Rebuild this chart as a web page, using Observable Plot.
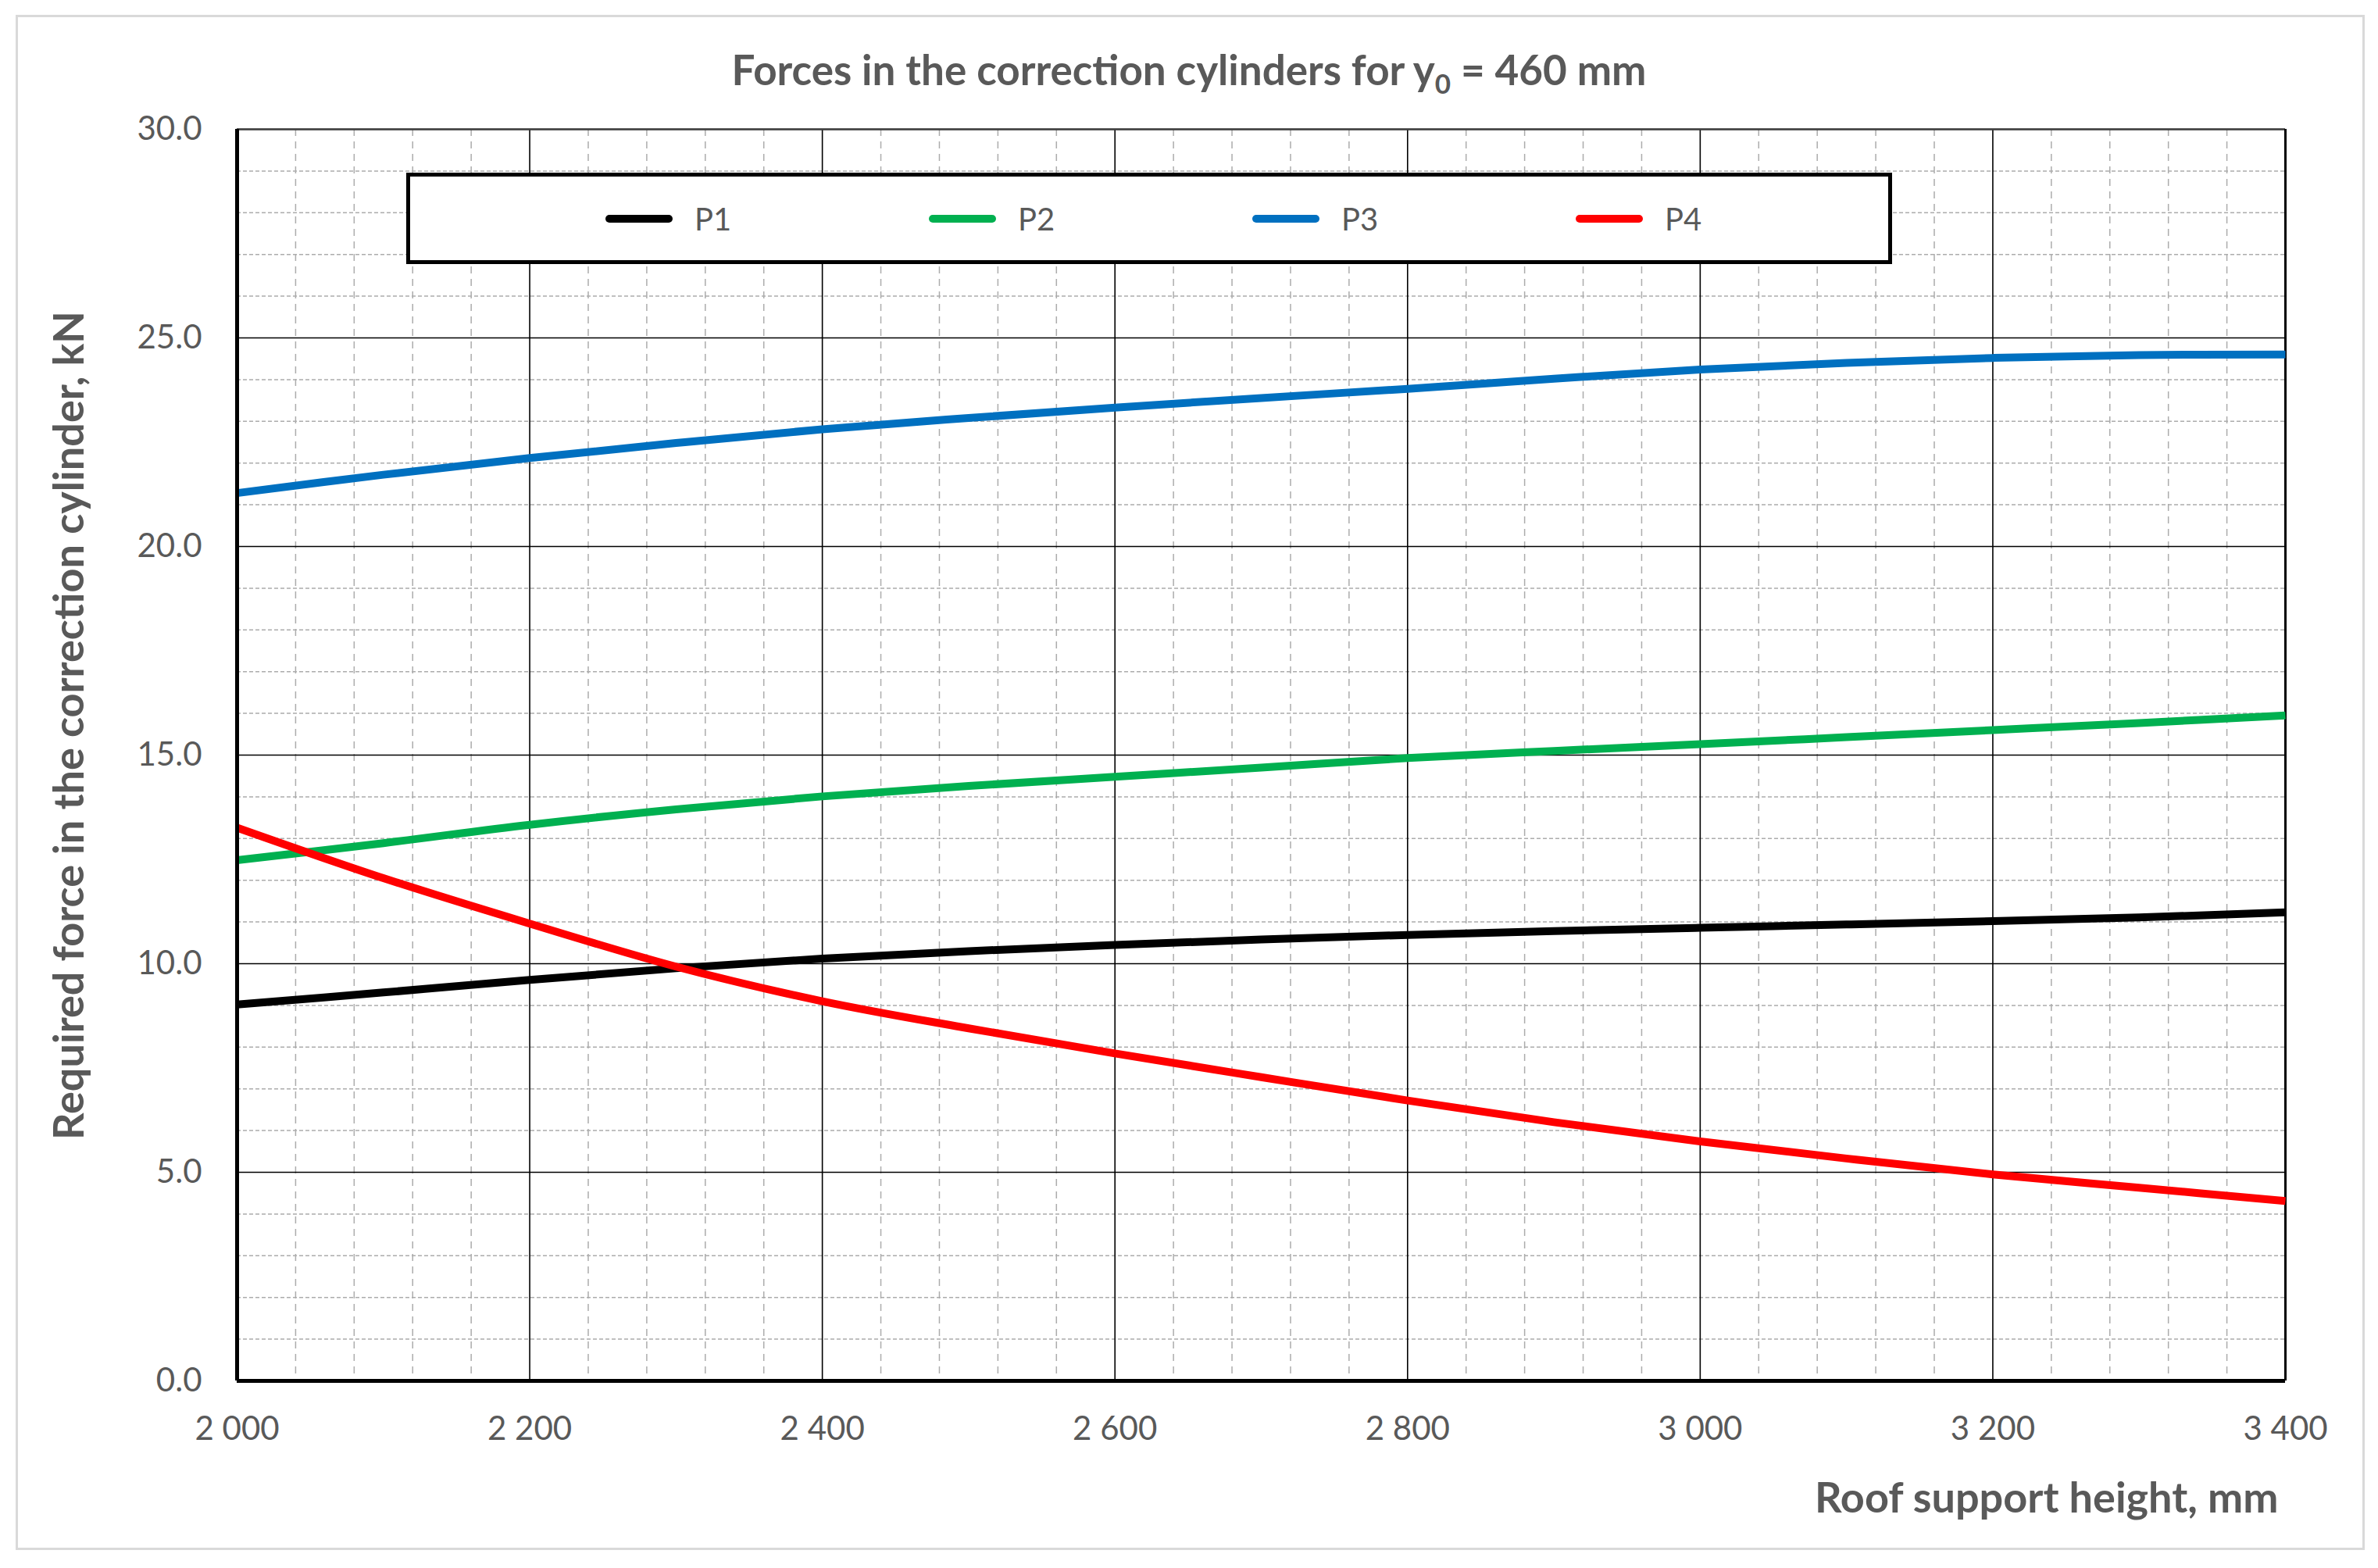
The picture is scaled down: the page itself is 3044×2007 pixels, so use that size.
<!DOCTYPE html>
<html>
<head>
<meta charset="utf-8">
<script src="https://cdn.jsdelivr.net/npm/d3@7"></script>
<script src="https://cdn.jsdelivr.net/npm/@observablehq/plot@0.6"></script>
<style>
  html, body { margin: 0; padding: 0; background: #fff; }
  #wrap { position: relative; width: 3044px; height: 2007px; background: #fff; font-family: Lato, "Open Sans", sans-serif; }
  #frame { position: absolute; left: 20px; top: 19px; width: 3007px; height: 1965px; box-sizing: border-box; border: 3px solid #d9d9d9; pointer-events: none; }
  #title { position: absolute; left: 0; width: 3044px; top: 62px; text-align: center; font-size: 53px; line-height: 53px; font-weight: 700; color: #595959; white-space: nowrap; }
  #title sub { font-size: 35px; vertical-align: -11px; line-height: 0; }
  #legend { position: absolute; left: 520px; top: 221px; width: 1902px; height: 117px; box-sizing: border-box; border: 5px solid #000; background: #fff; }
  .item { position: absolute; top: 0; height: 107px; display: flex; align-items: center; }
  .swatch { width: 86px; height: 10px; border-radius: 5px; }
  .lab { margin-left: 28px; font-size: 40px; color: #595959; line-height: 40px; }
</style>
</head>
<body>
<div id="wrap">
  <div id="chart"></div>
  <div id="title">Forces in the correction cylinders for y<sub>0</sub> = 460 mm</div>
  <div id="legend"></div>
  <div id="frame"></div>
</div>
<script>
// ---- data ----
const heights = [2000, 2100, 2200, 2300, 2400, 2500, 2600, 2700, 2800, 2900, 3000, 3100, 3200, 3300, 3400];
const p1 = [9.02, 9.31, 9.61, 9.89, 10.12, 10.30, 10.45, 10.58, 10.69, 10.78, 10.86, 10.94, 11.02, 11.11, 11.23];
const p2 = [12.48, 12.89, 13.33, 13.70, 14.01, 14.26, 14.48, 14.70, 14.93, 15.10, 15.26, 15.43, 15.60, 15.77, 15.95];
const p3 = [21.28, 21.72, 22.12, 22.48, 22.81, 23.08, 23.33, 23.56, 23.78, 24.02, 24.24, 24.40, 24.52, 24.59, 24.60];
const p4 = [13.26, 12.05, 10.96, 9.93, 9.10, 8.45, 7.85, 7.28, 6.72, 6.20, 5.74, 5.33, 4.95, 4.63, 4.31];
const seriesNames = ["P1", "P2", "P3", "P4"];
const seriesColors = ["#000000", "#00b050", "#0070c0", "#ff0000"];
const xMajorTicks = [2000, 2200, 2400, 2600, 2800, 3000, 3200, 3400];
const yMajorTicks = [0, 5, 10, 15, 20, 25, 30];
const xMinorTicks = d3.range(2000, 3401, 40).filter(d => d % 200 !== 0);
const yMinorTicks = d3.range(0, 31, 1).filter(d => d % 5 !== 0);
const titleX = "Roof support height, mm";
const titleY = "Required force in the correction cylinder, kN";

const seriesValues = [p1, p2, p3, p4];
const rows = [];
seriesNames.forEach((name, i) => {
  heights.forEach((h, j) => rows.push({height: h, force: seriesValues[i][j], series: name}));
});

const spaceFormat = d3.formatLocale({decimal: ".", thousands: "\u00a0", grouping: [3], currency: ["", ""]}).format(",");

const chart = Plot.plot({
  width: 3044,
  height: 2007,
  marginLeft: 303,
  marginRight: 119,
  marginTop: 165,
  marginBottom: 240,
  style: {fontFamily: "Lato, 'Open Sans', sans-serif", background: "transparent", overflow: "visible"},
  x: {domain: [2000, 3400]},
  y: {domain: [0, 30]},
  color: {domain: seriesNames, range: seriesColors},
  marks: [
    Plot.ruleX(xMinorTicks, {stroke: "#acacac", strokeWidth: 1.5, strokeDasharray: "9,7"}),
    Plot.ruleY(yMinorTicks, {stroke: "#acacac", strokeWidth: 1.5, strokeDasharray: "5,3"}),
    Plot.ruleX(xMajorTicks, {stroke: "#000", strokeWidth: 1.6}),
    Plot.ruleY(yMajorTicks, {stroke: "#000", strokeWidth: 1.6}),
    Plot.ruleY([30], {stroke: "#404040", strokeWidth: 2.5}),
    Plot.ruleX([3400], {stroke: "#000", strokeWidth: 3}),
    Plot.line(rows, {x: "height", y: "force", z: "series", stroke: "series", strokeWidth: 10, curve: "catmull-rom", strokeLinecap: "butt"}),
    Plot.ruleX([2000], {stroke: "#000", strokeWidth: 5}),
    Plot.ruleY([0], {stroke: "#000", strokeWidth: 5}),
    Plot.axisX({ticks: xMajorTicks, tickSize: 0, tickPadding: 46, tickFormat: spaceFormat, fontSize: 42, color: "#595959", label: null}),
    Plot.axisY({ticks: yMajorTicks, tickSize: 0, tickPadding: 45, tickFormat: d3.format(".1f"), fontSize: 42, color: "#595959", label: null}),
    Plot.text([titleX], {frameAnchor: "bottom-right", textAnchor: "end", dx: -9, dy: 168, fontSize: 54, fontWeight: "bold", fill: "#595959"}),
    Plot.text([titleY], {frameAnchor: "left", textAnchor: "middle", rotate: -90, dx: -214, dy: -38, fontSize: 54, fontWeight: "bold", fill: "#595959"})
  ]
});
document.getElementById("chart").appendChild(chart);

// legend
const legend = d3.select("#legend");
seriesNames.forEach((name, i) => {
  const item = legend.append("div").attr("class", "item").style("left", (250 + i * 414) + "px");
  item.append("div").attr("class", "swatch").style("background", seriesColors[i]);
  item.append("div").attr("class", "lab").text(name);
});
</script>
</body>
</html>
